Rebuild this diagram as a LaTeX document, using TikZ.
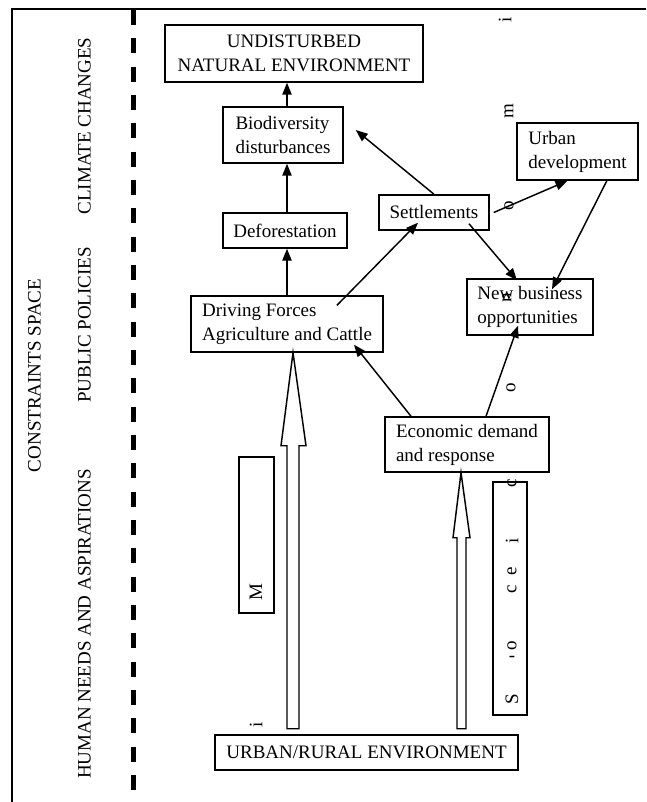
\documentclass[tikz,border=0pt]{standalone}
\usepackage{fontspec}
\setmainfont{Liberation Serif}
\usetikzlibrary{arrows.meta}
\tikzset{every picture/.style={line width=1.1pt},
  box/.style={draw, inner xsep=7.5pt, inner ysep=0pt, font=\fontsize{14.25}{18}\selectfont},
  arr/.style={-{Triangle[length=9pt,width=7pt]}},
  hollow/.style={fill=white},
  sidetext/.style={rotate=90, inner sep=0pt, font=\fontsize{14.25}{18}\selectfont},
  stray/.style={rotate=90, inner sep=0pt, font=\fontsize{14.25}{18}\selectfont}
}

\begin{document}
\begin{tikzpicture}[x=0.75pt,y=0.75pt,yscale=-1,xscale=1]
        \useasboundingbox (0,0) rectangle (646,802);

        %Straight Lines: frame
        \draw    (12,802) -- (12,9) -- (646,9) ;
        %Straight Lines: dashed separator
        \draw [line width=3.75pt, dash pattern=on 11.25pt off 10pt]   (133,10) -- (133,802) ;

        % Text Node
        \node [sidetext] (climate) at (84.5,126) {CLIMATE CHANGES};
        % Text Node
        \node [sidetext] (policies) at (84.5,325) {PUBLIC POLICIES};
        % Text Node
        \node [sidetext] (needs) at (84.5,624) {HUMAN NEEDS AND ASPIRATIONS};
        % Text Node
        \node [sidetext] (constraints) at (34.5,375.5) {CONSTRAINTS SPACE};

        %Shape: boxes
        \node [box, minimum width=193.5pt, minimum height=42.75pt, align=center] (undist) at (294,53.5) {UNDISTURBED\\NATURAL ENVIRONMENT};
        \node [box, minimum width=90pt, minimum height=42pt, align=left] (biodiv) at (283,135) {Biodiversity\\disturbances};
        \node [box, minimum width=93pt, minimum height=26.25pt] (defor) at (285,230.5) {Deforestation};
        \node [box, minimum width=144pt, minimum height=42pt, align=left] (driving) at (287,324) {Driving Forces\\Agriculture and Cattle};
        \node [box, minimum width=82.5pt, minimum height=26.25pt] (settle) at (434,212.5) {Settlements};
        \node [box, minimum width=90.75pt, minimum height=42.75pt, align=left] (urban) at (577.5,151.5) {Urban\\development};
        \node [box, minimum width=94.5pt, minimum height=42pt, align=left] (newbiz) at (530,307) {New business\\opportunities};
        \node [box, minimum width=123pt, minimum height=41.25pt, align=left] (econ) at (467,444.5) {Economic demand\\and response};
        \node [box, minimum width=227.25pt, minimum height=26.25pt] (urbrur) at (366.5,752.5) {URBAN/RURAL ENVIRONMENT};
        \node [box, minimum width=26.25pt, minimum height=117pt] (mbox) at (256.5,535) {};
        \node [box, minimum width=25.5pt, minimum height=174.75pt] (sociobox) at (510,598.5) {};

        %Straight Lines: vertical chain
        \draw [arr]   (driving.north) -- (driving.north |- defor.south) ;
        \draw [arr]   (defor.north -| driving) -- (biodiv.south -| driving) ;
        \draw [arr]   (biodiv.north -| driving) -- (undist.south -| driving) ;
        %Straight Lines: other links
        \draw [arr]   (settle.north) -- ([xshift=9pt,yshift=-3.75pt]biodiv.east) ;
        \draw [arr]   ([xshift=37.5pt,yshift=7.5pt]driving.north) -- ([xshift=-12pt,yshift=-6pt]settle.south) ;
        \draw [arr]   ([xshift=3pt]settle.east) -- ([xshift=-7.5pt]urban.south) ;
        \draw [arr]   ([xshift=22pt]urban.south) -- ([xshift=16.5pt,yshift=8.25pt]newbiz.north) ;
        \draw [arr]   ([xshift=26.25pt,yshift=-5.25pt]settle.south) -- ([xshift=-9.75pt,yshift=1.5pt]newbiz.north) ;
        \draw [arr]   ([xshift=-42pt]econ.north) -- ([xshift=50.25pt,yshift=-6pt]driving.south) ;
        \draw [arr]   ([xshift=14.25pt]econ.north) -- ([xshift=-9pt,yshift=-7.5pt]newbiz.south) ;

        %Shape: hollow arrows
        \draw [hollow]   ([xshift=4.5pt]driving.south) -- ++(13,93) -- ++(-7,0) -- ++(0,283) -- ++(-12,0) -- ++(0,-283) -- ++(-6,0) -- cycle ;
        \draw [hollow]   ([xshift=-4.5pt]econ.south) -- ++(9,65) -- ++(-4,0) -- ++(0,191) -- ++(-9,0) -- ++(0,-191) -- ++(-4,0) -- cycle ;

        % Text Node: loose letters
        \foreach \px/\py/\ch in {505/20/i, 509/111/m, 509/206/o, 507/298/n, 511/388/o, 512/483/c,
                512/541/i, 512/571/e, 512/589/c, 512/646/o, 512/699/S, 256/592/M, 256/725/i}
            \node [stray] (ch\px-\py) at (\px,\py) {\ch};
        \node [inner sep=0pt, font=\fontsize{14.25}{18}\selectfont] (dash) at (512,659) {-};

\end{tikzpicture}
\end{document}
